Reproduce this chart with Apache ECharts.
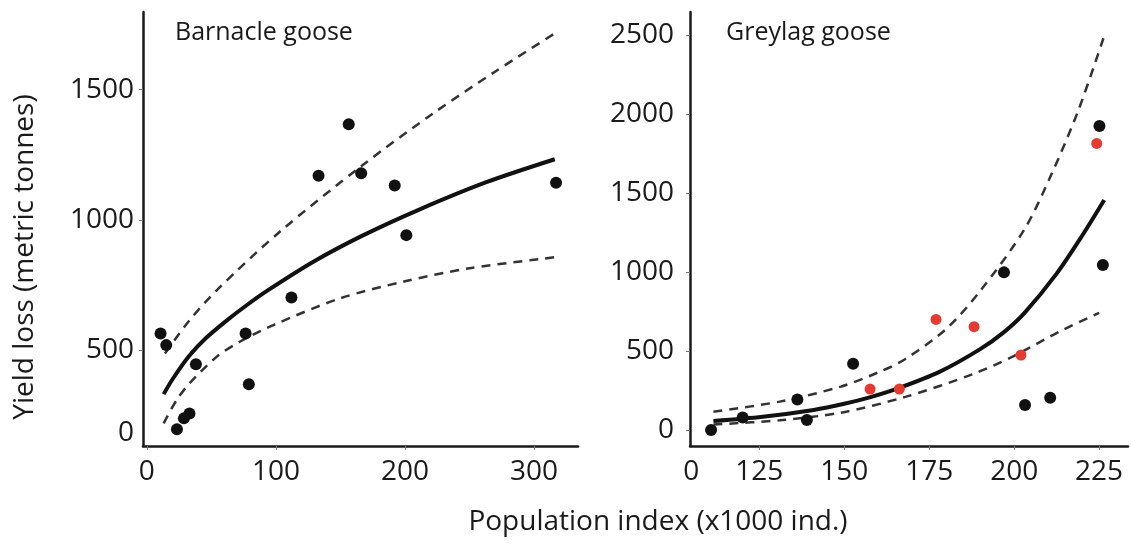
<!DOCTYPE html>
<html>
<head>
<meta charset="utf-8">
<title>Yield loss vs population index</title>
<script src="https://cdn.jsdelivr.net/npm/echarts@6/dist/echarts.min.js"></script>
<style>
  html, body {margin: 0; padding: 0; background: #fff;}
  #chart {width: 1131px; height: 546px;}
</style>
</head>
<body>
<div id="chart"></div>
<script>
// Barnacle goose - observed points (population index, yield loss)
const barnacleX = [10.6, 15, 23.3, 28.7, 33, 38, 76.5, 79, 112, 133, 156.4, 166, 192, 201, 317];
const barnacleY = [565, 520, 197, 239, 258, 447, 565, 370, 703, 1170, 1367, 1179, 1132, 942, 1143];
// fitted curve + upper/lower bands
const barnacleFitX = [13, 20, 33, 46, 62, 77, 93, 129, 167, 211, 263, 316];
const barnacleFitY = [332, 390, 480, 548, 615, 672, 728, 840, 940, 1040, 1145, 1233];
const barnacleUpX = [14, 33, 55, 103, 167, 222, 270, 317];
const barnacleUpY = [488, 615, 735, 955, 1210, 1410, 1570, 1719];
const barnacleLoX = [13, 23, 33, 54, 72, 98, 150, 200, 250, 316];
const barnacleLoY = [220, 309, 373, 475, 533, 597, 700, 765, 815, 857];

// Greylag goose - black and red points
const greylagBlackX = [110.8, 120.1, 136.2, 139, 152.6, 197, 203.2, 210.6, 225.1, 226.1];
const greylagBlackY = [0, 80, 194, 63, 420, 998, 158, 204, 1924, 1044];
const greylagRedX = [157.6, 166.2, 177, 188.2, 202, 224.3];
const greylagRedY = [259, 259, 700, 654, 475, 1814];
const greylagFitX = [111.5, 126, 141, 150, 158, 166, 178, 190, 197, 203, 212.5, 220, 226.5];
const greylagFitY = [57, 84, 127, 166, 210, 265, 368, 512, 620, 740, 990, 1230, 1456];
const greylagUpX = [111.5, 131, 149, 160, 168, 180, 190, 203, 211, 219, 226.8];
const greylagUpY = [116, 180, 275, 365, 450, 640, 880, 1270, 1620, 2030, 2514];
const greylagLoX = [111.5, 131, 149, 168, 188, 200, 213.5, 225];
const greylagLoY = [35, 62, 110, 210, 355, 470, 625, 742];

// tick labels (both panels have a "0" at the broken origin)
const barnacleXTicks = [0, 100, 200, 300];
const barnacleYTicks = [183, 500, 1000, 1500];
const barnacleYText = ['0', '500', '1000', '1500'];
const greylagXTicks = [105, 125, 150, 175, 200, 225];
const greylagXText = ['0', '125', '150', '175', '200', '225'];
const greylagYTicks = [0, 500, 1000, 1500, 2000, 2500];

const FONT = '"Open Sans", "Noto Sans", sans-serif';
const INK = '#1a1a1a';

function zip(xs, ys) {
    return xs.map((x, i) => [x, ys[i]]);
}
function lookup(ticks, texts) {
    return function (v) {
        let best = 0;
        ticks.forEach((t, i) => { if (Math.abs(t - v) < Math.abs(ticks[best] - v)) best = i; });
        return texts[best];
    };
}
function plain(v) {
    return String(Math.round(v));
}
function axisBase(extra) {
    return Object.assign({
        type: 'value',
        splitLine: {show: false},
        axisLine: {show: true, onZero: false, lineStyle: {color: INK, width: 2.5}},
        axisTick: {show: true, length: 4, lineStyle: {color: '#777', width: 1}},
        axisLabel: {color: INK, fontFamily: FONT, fontSize: 28}
    }, extra);
}
function curve(grid, xs, ys, dashed) {
    return {
        type: 'line',
        xAxisIndex: grid, yAxisIndex: grid,
        data: zip(xs, ys),
        smooth: 0.3,
        showSymbol: false,
        silent: true,
        lineStyle: dashed
            ? {color: '#333', width: 2.5, type: [9, 7]}
            : {color: '#111', width: 4},
        z: 2
    };
}
function dots(grid, xs, ys, color, size) {
    return {
        type: 'scatter',
        xAxisIndex: grid, yAxisIndex: grid,
        data: zip(xs, ys),
        symbolSize: size,
        itemStyle: {color: color, opacity: 1},
        z: 3
    };
}

let chart = echarts.init(document.getElementById('chart'));
chart.setOption({
    backgroundColor: '#fff',
    animation: false,
    grid: [
        {left: 143, top: 12, width: 435, height: 434},
        {left: 690, top: 12, width: 438, height: 434}
    ],
    xAxis: [
        axisBase({
            gridIndex: 0, min: -3, max: 334,
            axisTick: {show: true, length: 4, customValues: barnacleXTicks, lineStyle: {color: '#777'}},
            axisLabel: {color: INK, fontFamily: FONT, fontSize: 28, margin: 12, customValues: barnacleXTicks, formatter: plain}
        }),
        axisBase({
            gridIndex: 1, min: 104.6, max: 233.5,
            axisTick: {show: true, length: 4, customValues: greylagXTicks.slice(1), lineStyle: {color: '#777'}},
            axisLabel: {
                color: INK, fontFamily: FONT, fontSize: 28, margin: 12,
                customValues: greylagXTicks,
                formatter: lookup(greylagXTicks, greylagXText)
            }
        })
    ],
    yAxis: [
        axisBase({
            gridIndex: 0, min: 133, max: 1798,
            axisTick: {show: true, length: 4, customValues: barnacleYTicks.slice(1), lineStyle: {color: '#777'}},
            axisLabel: {
                color: INK, fontFamily: FONT, fontSize: 28, margin: 9,
                customValues: barnacleYTicks,
                formatter: lookup(barnacleYTicks, barnacleYText)
            }
        }),
        axisBase({
            gridIndex: 1, min: -101, max: 2646,
            axisTick: {show: true, length: 4, customValues: greylagYTicks, lineStyle: {color: '#777'}},
            axisLabel: {color: INK, fontFamily: FONT, fontSize: 28, margin: 16, customValues: greylagYTicks, formatter: plain}
        })
    ],
    graphic: [
        {type: 'text', left: 175, top: 20, style: {text: 'Barnacle goose', fill: INK, font: '25px ' + FONT}},
        {type: 'text', left: 726, top: 20, style: {text: 'Greylag goose', fill: INK, font: '25px ' + FONT}},
        {
            type: 'text', x: 25, y: 257, rotation: Math.PI / 2,
            style: {text: 'Yield loss (metric tonnes)', fill: INK, font: '28px ' + FONT, align: 'center', verticalAlign: 'middle'}
        },
        {
            type: 'text', x: 658, y: 522,
            style: {text: 'Population index (x1000 ind.)', fill: INK, font: '28px ' + FONT, align: 'center', verticalAlign: 'middle'}
        }
    ],
    series: [
        curve(0, barnacleUpX, barnacleUpY, true),
        curve(0, barnacleLoX, barnacleLoY, true),
        curve(0, barnacleFitX, barnacleFitY, false),
        dots(0, barnacleX, barnacleY, '#111', 12),
        curve(1, greylagUpX, greylagUpY, true),
        curve(1, greylagLoX, greylagLoY, true),
        curve(1, greylagFitX, greylagFitY, false),
        dots(1, greylagBlackX, greylagBlackY, '#111', 12),
        dots(1, greylagRedX, greylagRedY, '#e53a2f', 11)
    ]
});
</script>
</body>
</html>
